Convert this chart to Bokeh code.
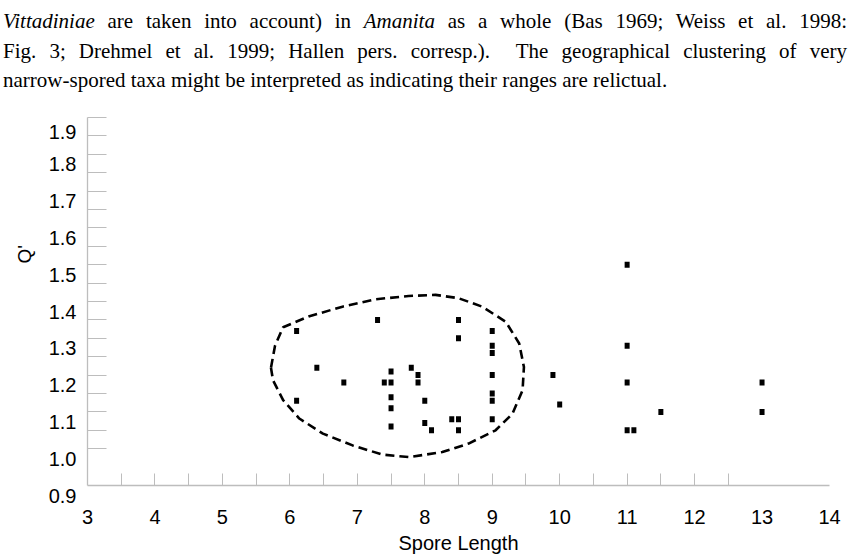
from bokeh.plotting import figure
from bokeh.models import Range1d, FixedTicker, Title, Div
from bokeh.layouts import column
from bokeh.embed import file_html
from bokeh.resources import INLINE

# ---------------- data ----------------
spore_length = [6.1, 7.3, 8.5, 8.5, 9.0, 9.0, 9.0, 6.4, 7.5, 7.8, 7.9, 7.9, 6.8, 7.4,
                7.5, 9.0, 6.1, 7.5, 7.5, 7.5, 8.0, 8.0, 8.1, 8.4, 8.5, 8.5, 9.0, 9.0,
                9.0, 9.9, 10.0, 11.0, 11.0, 11.0, 11.5, 11.0, 11.1, 13.0, 13.0]
q_prime = [1.32, 1.35, 1.35, 1.30, 1.32, 1.28, 1.26, 1.22, 1.21, 1.22, 1.20, 1.18, 1.18, 1.18,
           1.18, 1.20, 1.13, 1.14, 1.11, 1.06, 1.13, 1.07, 1.05, 1.08, 1.08, 1.05, 1.15, 1.13,
           1.08, 1.20, 1.12, 1.50, 1.28, 1.18, 1.10, 1.05, 1.05, 1.18, 1.10]

outline_x = [5.72, 5.78, 5.90, 6.29, 6.78, 7.27, 7.76, 8.16, 8.50, 8.85, 9.20, 9.40, 9.47,
             9.45, 9.30, 9.05, 8.65, 8.26, 7.77, 7.37, 6.93, 6.49, 6.14, 5.90, 5.75, 5.72]
outline_y = [1.22, 1.28, 1.33, 1.36, 1.386, 1.406, 1.415, 1.418, 1.409, 1.386, 1.345, 1.286, 1.222,
             1.159, 1.095, 1.05, 1.014, 0.991, 0.977, 0.984, 1.009, 1.041, 1.082, 1.132, 1.186, 1.22]

x_tick_values = [3, 4, 5, 6, 7, 8, 9, 10, 11, 12, 13, 14]
x_tick_labels = ["3", "4", "5", "6", "7", "8", "9", "10", "11", "12", "13", "14"]
x_tick_marks = [3.5, 4.0, 4.5, 5.0, 5.5, 6.0, 6.5, 7.0, 7.5, 8.0, 8.5, 9.0, 9.5, 10.0,
                10.5, 11.0, 11.5, 12.0, 12.5]
y_tick_values = [0.9, 1.0, 1.1, 1.2, 1.3, 1.4, 1.5, 1.6, 1.7, 1.8, 1.9]
y_tick_labels = ["0.9", "1.0", "1.1", "1.2", "1.3", "1.4", "1.5", "1.6", "1.7", "1.8", "1.9"]
y_tick_marks = [1.0, 1.05, 1.1, 1.15, 1.2, 1.25, 1.3, 1.35, 1.4, 1.45, 1.5, 1.55, 1.6,
                1.65, 1.7, 1.75, 1.8, 1.85, 1.9]

x_title = "Spore Length"
y_title = "Q'"

text_lines = [
    "*Vittadiniae* are taken into account) in *Amanita* as a whole (Bas 1969; Weiss et al. 1998:",
    "Fig. 3; Drehmel et al. 1999; Hallen pers. corresp.).&nbsp; The geographical clustering of very",
    "narrow-spored taxa might be interpreted as indicating their ranges are relictual.",
]

# ---------------- paragraph above the chart ----------------
PAGE_W, PAGE_H = 850, 560
TEXT_H = 100
parts = []
for i, line in enumerate(text_lines):
    html_line = " ".join(("<i>%s</i>" % w.strip("*")) if (w.startswith("*") and w.endswith("*")) else w
                         for w in line.split(" "))
    last = i == len(text_lines) - 1
    align = "text-align:left;" if last else "text-align:justify;text-align-last:justify;"
    parts.append('<div style="margin:0;padding:0;%s">%s</div>' % (align, html_line))
para = Div(text='<div style="box-sizing:border-box;width:%dpx;padding:7px 3px 0 3px;margin:0;'
                'font-family:\'Liberation Serif\';font-size:21px;line-height:29.5px;color:#000;">'
                % PAGE_W + "".join(parts) + "</div>",
           width=PAGE_W, height=TEXT_H, margin=0)

# ---------------- figure ----------------
AXIS_GREY = "#bdbdbd"
SANS = "Liberation Sans"
FRAME_L, FRAME_R, FRAME_T, FRAME_B = 84, 829, 117, 485   # page pixels

p = figure(width=PAGE_W, height=PAGE_H - TEXT_H, output_backend="svg", toolbar_location=None,
           x_range=Range1d(3, 14), y_range=Range1d(0.9, 1.9),
           min_border_left=FRAME_L, min_border_right=PAGE_W - FRAME_R,
           min_border_top=FRAME_T - TEXT_H, min_border_bottom=PAGE_H - FRAME_B, margin=0)
p.outline_line_color = None
p.xgrid.visible = False
p.ygrid.visible = False
p.background_fill_color = "white"
p.border_fill_color = "white"

xa = p.xaxis[0]
xa.ticker = FixedTicker(ticks=x_tick_values, minor_ticks=x_tick_marks)
xa.major_label_overrides = {v: t for v, t in zip(x_tick_values, x_tick_labels)}
xa.major_tick_in = 0
xa.major_tick_out = 0
xa.minor_tick_in = 12
xa.minor_tick_out = 0
xa.major_label_standoff = 24
xa.major_label_text_font = SANS
xa.major_label_text_font_size = "20px"
xa.major_label_text_color = "black"

ya = p.yaxis[0]
ya.ticker = FixedTicker(ticks=y_tick_values, minor_ticks=y_tick_marks)
ya.major_label_overrides = {v: " \n" + t for v, t in zip(y_tick_values, y_tick_labels)}
ya.major_tick_in = 0
ya.major_tick_out = 0
ya.minor_tick_in = 19
ya.minor_tick_out = 0
ya.major_label_standoff = 11
ya.major_label_text_font = SANS
ya.major_label_text_font_size = "20px"
ya.major_label_text_line_height = 0.92
ya.major_label_text_color = "black"

for ax in (xa, ya):
    ax.axis_line_color = AXIS_GREY
    ax.axis_line_width = 1.3
    ax.minor_tick_line_color = AXIS_GREY
    ax.minor_tick_line_width = 1

# axis titles
p.add_layout(Title(text=x_title, align="center", text_font=SANS, text_font_size="20px",
                   text_font_style="normal", text_color="black", standoff=6), "below")
p.add_layout(Title(text=y_title, align="left", offset=222, text_font=SANS, text_font_size="19px",
                   text_font_style="normal", text_color="black", standoff=22), "left")

# dashed outline
p.line(outline_x, outline_y, line_color="black", line_width=2.6, line_dash="9 5")

# points
p.rect(spore_length, q_prime, width=5, height=6, width_units="screen", height_units="screen",
       fill_color="black", line_color=None)

layout = column(para, p, spacing=0)
open("out.html", "w").write(file_html(layout, INLINE))
